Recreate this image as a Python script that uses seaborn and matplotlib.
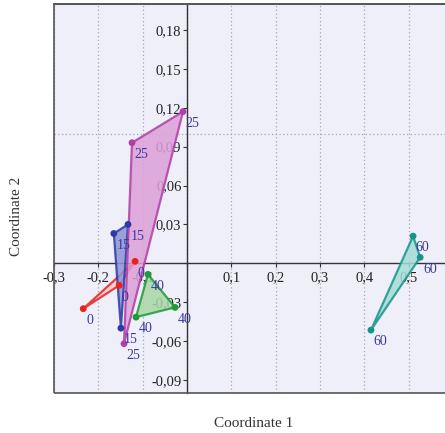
import matplotlib
matplotlib.use("Agg")
import matplotlib.pyplot as plt
from matplotlib.patches import Rectangle
from matplotlib.ticker import FuncFormatter, MultipleLocator
import seaborn as sns
import pandas as pd

# group 0
red_x = [-0.117, -0.153, -0.234]
red_y = [0.0015, -0.017, -0.035]
# group 15
blue_x = [-0.165, -0.133, -0.149]
blue_y = [0.023, 0.030, -0.050]
# group 25
mag_x = [-0.009, -0.124, -0.142]
mag_y = [0.117, 0.093, -0.062]
# group 40
green_x = [-0.088, -0.027, -0.115]
green_y = [-0.0085, -0.034, -0.0415]
# group 60
teal_x = [0.510, 0.526, 0.415]
teal_y = [0.021, 0.0046, -0.0515]

groups = ["0", "15", "25", "40", "60"]
colors = {"0": "#e8231c", "15": "#2c3aa6", "25": "#b03ea6",
          "40": "#1f9a38", "60": "#17948a"}
fills = {"0": "#f6d0d6", "15": "#8d93d6", "25": "#dda0d8",
         "40": "#a8d8a6", "60": "#a4dcd8"}

rows = []
for g, xs, ys in zip(groups, [red_x, blue_x, mag_x, green_x, teal_x],
                     [red_y, blue_y, mag_y, green_y, teal_y]):
    for x, y in zip(xs, ys):
        rows.append({"c1": x, "c2": y, "group": g})
df = pd.DataFrame(rows)

sns.set_style("white", {"axes.facecolor": "#efeff9"})
plt.rcParams["font.family"] = ["Liberation Serif", "DejaVu Serif"]

fig = plt.figure(figsize=(4.45, 4.33), dpi=100)
ax = fig.add_axes([0.1213, 0.0924, 0.8966, 0.8984])

for g in groups:
    sub = df[df["group"] == g]
    ax.fill(sub["c1"], sub["c2"], facecolor=fills[g], edgecolor=colors[g],
            linewidth=1.6, alpha=0.85, zorder=3)
sns.scatterplot(data=df, x="c1", y="c2", hue="group", palette=colors,
                s=24, edgecolor="none", legend=False, zorder=4, ax=ax)

for _, r in df.iterrows():
    ax.annotate(r["group"], (r["c1"], r["c2"]), xytext=(2, -11),
                textcoords="offset points", color="#3a3a9e", fontsize=10,
                zorder=5)

ax.set_xlim(-0.3, 0.6)
ax.set_ylim(-0.1, 0.2)

ax.spines["left"].set_position(("data", 0))
ax.spines["bottom"].set_position(("data", 0))
for s in ["left", "bottom"]:
    ax.spines[s].set_color("#333333")
    ax.spines[s].set_linewidth(1.0)
for s in ["top", "right"]:
    ax.spines[s].set_color("#555555")
    ax.spines[s].set_linewidth(1.2)
ax.add_patch(Rectangle((0, 0), 1, 1, transform=ax.transAxes, fill=False,
                       edgecolor="#555555", linewidth=1.2, zorder=6,
                       clip_on=False))

ax.xaxis.set_major_locator(MultipleLocator(0.1))
ax.yaxis.set_major_locator(MultipleLocator(0.03))
ax.yaxis.set_minor_locator(MultipleLocator(0.1))


def fmt_x(v, pos):
    if abs(v) < 1e-9 or v > 0.55:
        return ""
    return f"{v:.1f}".replace(".", ",")


def fmt_y(v, pos):
    if abs(v) < 1e-9:
        return ""
    return f"{v:.2f}".replace(".", ",")


ax.xaxis.set_major_formatter(FuncFormatter(fmt_x))
ax.yaxis.set_major_formatter(FuncFormatter(fmt_y))
ax.tick_params(axis="both", which="major", direction="out", length=3,
               width=0.8, color="#333333", labelsize=10.5,
               labelcolor="#222222", pad=1)
ax.tick_params(axis="x", which="major", pad=3)
ax.tick_params(axis="y", which="minor", length=0)
ax.yaxis.set_ticks_position("left")
ax.xaxis.set_ticks_position("bottom")

ax.grid(False)
ax.xaxis.grid(True, which="major", linestyle=(0, (1, 2)), color="#a8a8a8",
              linewidth=0.9)
ax.yaxis.grid(True, which="minor", linestyle=(0, (1, 2)), color="#a8a8a8",
              linewidth=0.9)
ax.set_axisbelow(True)

ax.set_xlabel("")
ax.set_ylabel("")
fig.text(0.571, 0.023, "Coordinate 1", ha="center", va="center",
         fontsize=11, color="#333333")
fig.text(0.038, 0.50, "Coordinate 2", ha="center", va="center",
         rotation=90, fontsize=11, color="#333333")

fig.savefig("out.png", dpi=100)
